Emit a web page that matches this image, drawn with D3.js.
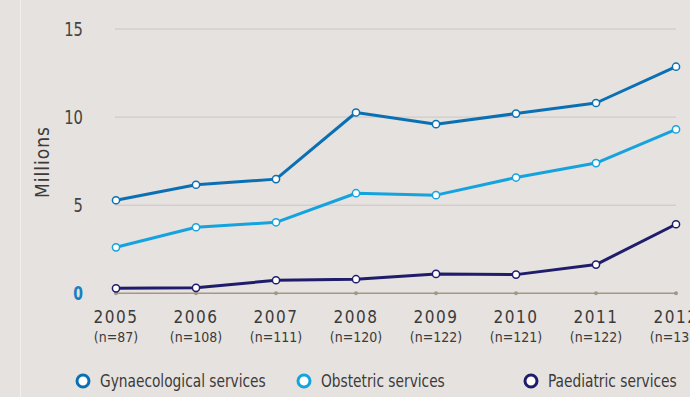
<!DOCTYPE html>
<html>
<head>
<meta charset="utf-8">
<script src="https://cdn.jsdelivr.net/npm/d3@7"></script>
<style>
  html, body { margin: 0; padding: 0; background: #e6e2df; }
  svg { display: block; font-family: "Liberation Sans Narrow", "DejaVu Sans Condensed", sans-serif; }
</style>
</head>
<body>
<svg id="chart" width="690" height="397"></svg>
<script>
// Spending by service area, millions
const years = ["2005", "2006", "2007", "2008", "2009", "2010", "2011", "2012"];
const sampleSizes = ["(n=87)", "(n=108)", "(n=111)", "(n=120)", "(n=122)", "(n=121)", "(n=122)", "(n=135)"];
const gynaecological = [5.28, 6.16, 6.48, 10.26, 9.6, 10.2, 10.8, 12.86];
const obstetric = [2.61, 3.75, 4.03, 5.68, 5.57, 6.57, 7.39, 9.3];
const paediatric = [0.28, 0.31, 0.74, 0.8, 1.1, 1.06, 1.63, 3.92];
const yTicks = [0, 5, 10, 15];
const seriesNames = ["Gynaecological services", "Obstetric services", "Paediatric services"];

const colours = ["#0b70b3", "#14a3de", "#1f1d6b"];
const series = [gynaecological, obstetric, paediatric].map((values, i) => ({
  name: seriesNames[i], colour: colours[i], values
}));

const svg = d3.select("#chart");

// thin light rule down the left side
svg.append("line").attr("x1", 20.5).attr("x2", 20.5).attr("y1", 0).attr("y2", 397)
  .attr("stroke", "#f3f1ef").attr("stroke-width", 1);

const x = d3.scalePoint().domain(years).range([116, 676]);
const y = d3.scaleLinear().domain([0, 15]).range([293.3, 29]);

// gridlines
svg.append("g").selectAll("line").data(yTicks.filter(t => t > 0)).join("line")
  .attr("x1", 115).attr("x2", 676)
  .attr("y1", d => y(d)).attr("y2", d => y(d))
  .attr("stroke", "#cbc6c2").attr("stroke-width", 1);

// baseline with year dots
svg.append("line").attr("x1", 115).attr("x2", 676).attr("y1", y(0)).attr("y2", y(0))
  .attr("stroke", "#a3968a").attr("stroke-width", 1.5);
svg.append("g").selectAll("circle").data(years).join("circle")
  .attr("cx", d => x(d)).attr("cy", y(0)).attr("r", 2)
  .attr("fill", "#a3968a");

// y tick labels
svg.append("g").selectAll("text").data(yTicks).join("text")
  .attr("x", 83).attr("y", d => y(d)).attr("dy", "0.35em")
  .attr("text-anchor", "end")
  .attr("font-size", d => d === 0 ? 19 : 20)
  .attr("font-weight", d => d === 0 ? "bold" : "normal")
  .attr("fill", d => d === 0 ? "#1a7fc0" : "#444242")
  .attr("transform", d => `translate(83,0) scale(0.82,1) translate(-83,0)`)
  .text(d => d);

// axis title
svg.append("text")
  .attr("transform", "translate(49,162) rotate(-90)")
  .attr("text-anchor", "middle")
  .attr("font-size", 19)
  .attr("letter-spacing", 1)
  .attr("fill", "#3c3a3a")
  .text("Millions");

// x labels
const xl = svg.append("g").selectAll("g").data(years).join("g")
  .attr("transform", d => `translate(${x(d)},0)`);
xl.append("text").attr("y", 323).attr("text-anchor", "middle")
  .attr("font-size", 17).attr("letter-spacing", 1.5).attr("fill", "#3c3a3a")
  .text(d => d);
xl.append("text").attr("y", 342).attr("text-anchor", "middle")
  .attr("font-size", 14).attr("fill", "#3c3a3a")
  .text((d, i) => sampleSizes[i]);

// lines and markers
const line = d3.line().x((d, i) => x(years[i])).y(d => y(d));
const sg = svg.append("g").selectAll("g").data(series).join("g");
sg.append("path")
  .attr("d", d => line(d.values))
  .attr("fill", "none").attr("stroke", d => d.colour).attr("stroke-width", 3)
  .attr("stroke-linejoin", "round");
sg.each(function(s) {
  d3.select(this).selectAll("circle").data(s.values).join("circle")
    .attr("cx", (d, i) => x(years[i])).attr("cy", d => y(d)).attr("r", 3.6)
    .attr("fill", "#fff").attr("stroke", s.colour).attr("stroke-width", 1.5);
});

// legend
const legendX = [83, 304, 531];
const lg = svg.append("g").selectAll("g").data(series).join("g")
  .attr("transform", (d, i) => `translate(${legendX[i]},381)`);
lg.append("circle").attr("r", 6).attr("fill", "#fff")
  .attr("stroke", d => d.colour).attr("stroke-width", 3);
lg.append("text").attr("x", 17).attr("dy", "0.35em")
  .attr("font-size", 17).attr("fill", "#3c3a3a")
  .attr("transform", "translate(17,0) scale(0.9,1) translate(-17,0)")
  .text(d => d.name);
</script>
</body>
</html>
